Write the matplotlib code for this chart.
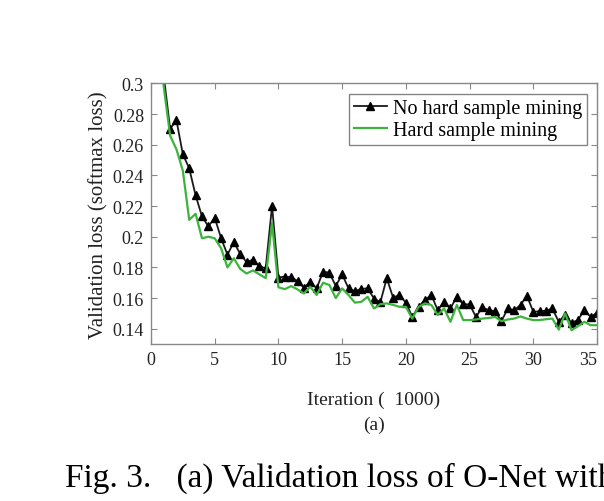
import numpy as np
import matplotlib
matplotlib.use('Agg')
import matplotlib.pyplot as plt

plt.rcParams['font.family'] = ['Liberation Serif', 'DejaVu Serif']

# iterations (x1000), one point every 500 iterations
iters = np.arange(0.5, 35.01, 0.5)

no_hard = [0.33, 0.305, 0.2705, 0.2759, 0.2538, 0.2446, 0.227, 0.2133, 0.2067, 0.2124,
           0.1991, 0.1883, 0.1965, 0.1888, 0.1834, 0.1851, 0.1808, 0.1794, 0.2201, 0.1734,
           0.174, 0.1736, 0.1711, 0.1667, 0.1707, 0.1663, 0.1772, 0.1766, 0.1678, 0.1755,
           0.1663, 0.1645, 0.166, 0.1663, 0.1597, 0.1573, 0.1729, 0.1603, 0.162, 0.157,
           0.1477, 0.1543, 0.1587, 0.162, 0.1521, 0.1576, 0.1532, 0.1609, 0.1559, 0.1559,
           0.1477, 0.1539, 0.1521, 0.1514, 0.1449, 0.1532, 0.1521, 0.1555, 0.1615, 0.151,
           0.1514, 0.1517, 0.1532, 0.1445, 0.149, 0.1439, 0.1456, 0.1521, 0.1477, 0.1504]

hard = [0.33, 0.298, 0.266, 0.257, 0.243, 0.211, 0.215, 0.199, 0.2, 0.199,
        0.1925, 0.18, 0.186, 0.179, 0.176, 0.178, 0.1755, 0.173, 0.209, 0.167,
        0.1658, 0.1678, 0.1656, 0.163, 0.1674, 0.162, 0.17, 0.1685, 0.16, 0.1663,
        0.162, 0.157, 0.1575, 0.1608, 0.1532, 0.156, 0.1565, 0.1555, 0.1543, 0.1543,
        0.1466, 0.1543, 0.1565, 0.1555, 0.149, 0.1532, 0.1445, 0.1555, 0.1456, 0.1456,
        0.146, 0.1466, 0.147, 0.1477, 0.1449, 0.146, 0.1466, 0.148, 0.1466, 0.1456,
        0.1456, 0.1462, 0.1466, 0.1394, 0.15, 0.139, 0.1416, 0.1445, 0.1423, 0.1423]

xticks = [0, 5, 10, 15, 20, 25, 30, 35]
yticks = [0.14, 0.16, 0.18, 0.2, 0.22, 0.24, 0.26, 0.28, 0.3]
ytick_labels = ['0.14', '0.16', '0.18', '0.2', '0.22', '0.24', '0.26', '0.28', '0.3']

fig = plt.figure(figsize=(6.04, 5.02), dpi=100)
ax = fig.add_axes([0.25, 0.3127, 0.7384, 0.519])

ax.plot(iters, no_hard, color='#1a1a1a', lw=1.3, marker='^', ms=6,
        markerfacecolor='black', markeredgecolor='black', label='No hard sample mining')
ax.plot(iters, hard, color='#3cb43c', lw=1.6, label='Hard sample mining')

ax.set_xlim(0, 35)
ax.set_ylim(0.13, 0.3)
ax.set_xticks(xticks)
ax.set_yticks(yticks)
ax.set_yticklabels(ytick_labels)
ax.tick_params(direction='in', top=True, right=True, labelsize=13,
               colors='#888888', labelcolor='#222222', length=4, pad=5)
# keep the last x label inside the picture, as in the original export
ax.get_xticklabels()[-1].set_horizontalalignment('right')
for s in ax.spines.values():
    s.set_color('#888888')
    s.set_linewidth(1.0)

ax.set_xlabel('Iteration (  1000)', fontsize=14, color='#222222', labelpad=16)
ax.set_ylabel('Validation loss (softmax loss)', fontsize=15, color='#222222', labelpad=3)

leg = ax.legend(loc='upper right', fontsize=14.5, frameon=True, fancybox=False,
                borderpad=0.25, labelspacing=0.15, handlelength=1.6, handletextpad=0.3,
                borderaxespad=0.5)
leg.get_frame().set_edgecolor('#666666')
leg.get_frame().set_linewidth(1.0)

fig.text(0.619, 0.153, '(a)', fontsize=14, ha='center', va='center', color='#222222')
fig.text(0.1076, 0.030, 'Fig. 3.   (a) Validation loss of O-Net with', fontsize=24,
         ha='left', va='baseline', color='black')

fig.savefig('out.png', dpi=100)
